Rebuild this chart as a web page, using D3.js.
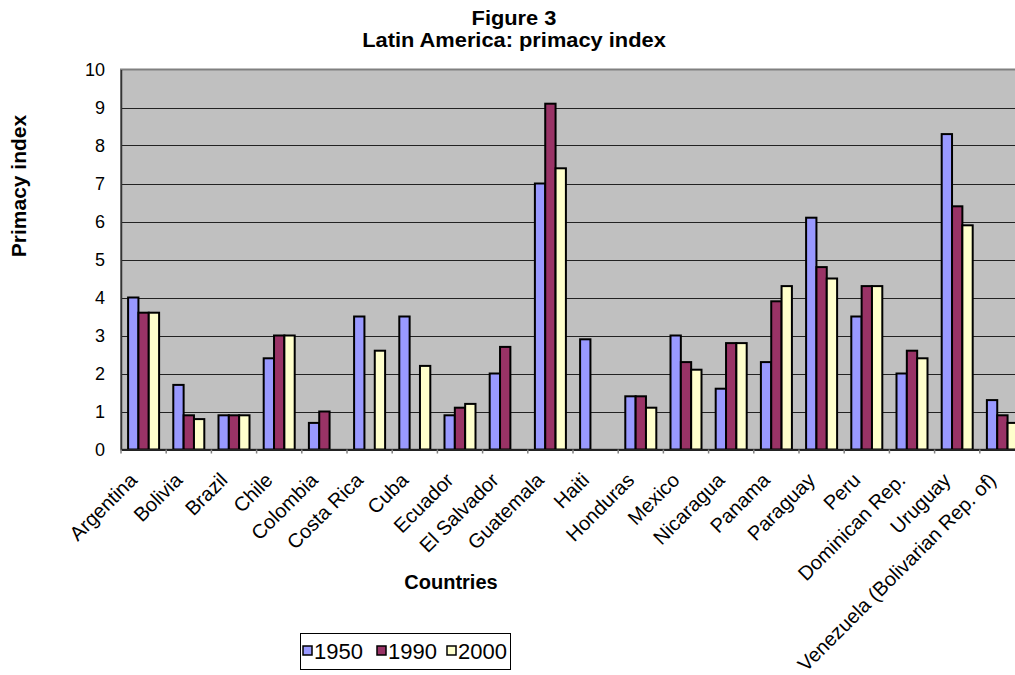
<!DOCTYPE html>
<html>
<head>
<meta charset="utf-8">
<script src="https://cdn.jsdelivr.net/npm/d3@7"></script>
<style>
  html, body { margin: 0; padding: 0; background: #fff; }
  svg { display: block; font-family: "Liberation Sans", Arial, sans-serif; }
</style>
</head>
<body>
<svg id="chart" width="1015" height="675"></svg>
<script>
// Primacy index by country, three census years (null = no data)
const countries = ["Argentina", "Bolivia", "Brazil", "Chile", "Colombia", "Costa Rica", "Cuba",
  "Ecuador", "El Salvador", "Guatemala", "Haiti", "Honduras", "Mexico", "Nicaragua", "Panama",
  "Paraguay", "Peru", "Dominican Rep.", "Uruguay", "Venezuela (Bolivarian Rep. of)"];
const years = ["1950", "1990", "2000"];
const values1950 = [4.0, 1.7, 0.9, 2.4, 0.7, 3.5, 3.5, 0.9, 2.0, 7.0, 2.9, 1.4, 3.0, 1.6, 2.3, 6.1, 3.5, 2.0, 8.3, 1.3];
const values1990 = [3.6, 0.9, 0.9, 3.0, 1.0, null, null, 1.1, 2.7, 9.1, null, 1.4, 2.3, 2.8, 3.9, 4.8, 4.3, 2.6, 6.4, 0.9];
const values2000 = [3.6, 0.8, 0.9, 3.0, null, 2.6, 2.2, 1.2, null, 7.4, null, 1.1, 2.1, 2.8, 4.3, 4.5, 4.3, 2.4, 5.9, 0.7];
const yTicks = [0, 1, 2, 3, 4, 5, 6, 7, 8, 9, 10];
const colors = ["#9999FF", "#993366", "#FFFFCC"];

const seriesValues = [values1950, values1990, values2000];
const rows = countries.map((c, i) => ({
  country: c,
  vals: years.map((y, k) => ({ year: y, value: seriesValues[k][i] }))
}));

const svg = d3.select("#chart");
const plot = { left: 121, top: 69.5, right: 1025, bottom: 449.5 };

const x = d3.scaleBand()
  .domain(countries)
  .range([plot.left, plot.right])
  .paddingInner(0.314)
  .paddingOuter(0.157);
const xInner = d3.scaleBand().domain(years).range([0, x.bandwidth()]);
const y = d3.scaleLinear().domain([0, 10]).range([plot.bottom, plot.top]);

// plot background
svg.append("rect")
  .attr("x", plot.left).attr("y", plot.top)
  .attr("width", plot.right - plot.left).attr("height", plot.bottom - plot.top)
  .attr("fill", "#C0C0C0").attr("stroke", "#808080").attr("stroke-width", 2);

// horizontal gridlines
svg.append("g").selectAll("line")
  .data(yTicks.filter(t => t > 0 && t < 10))
  .join("line")
  .attr("x1", plot.left).attr("x2", plot.right)
  .attr("y1", d => Math.round(y(d)) + 0.5).attr("y2", d => Math.round(y(d)) + 0.5)
  .attr("stroke", "#222").attr("stroke-width", 1.2);

// y axis
const yAxis = d3.axisLeft(y).tickValues(yTicks).tickSize(0).tickPadding(16).tickFormat(d3.format("d"));
const gy = svg.append("g").attr("transform", `translate(${plot.left},0)`).call(yAxis);
gy.select(".domain").attr("stroke", "#333").attr("stroke-width", 1.5);
gy.selectAll("text").attr("font-size", 18).attr("fill", "#000");

// bars
const groups = svg.append("g").selectAll("g")
  .data(rows)
  .join("g")
  .attr("transform", d => `translate(${x(d.country)},0)`);
groups.selectAll("rect")
  .data(d => d.vals.filter(v => v.value != null))
  .join("rect")
  .attr("x", d => xInner(d.year))
  .attr("width", xInner.bandwidth())
  .attr("y", d => y(d.value))
  .attr("height", d => y(0) - y(d.value))
  .attr("fill", d => colors[years.indexOf(d.year)])
  .attr("stroke", "#000").attr("stroke-width", 2);

// x axis with category tick marks between groups
const xAxis = d3.axisBottom(x).tickSize(0).tickFormat("");
const gx = svg.append("g").attr("transform", `translate(0,${plot.bottom})`).call(xAxis);
gx.select(".domain").attr("stroke", "#222").attr("stroke-width", 2);
svg.append("g").selectAll("line")
  .data(d3.range(countries.length + 1))
  .join("line")
  .attr("x1", i => plot.left + i * x.step()).attr("x2", i => plot.left + i * x.step())
  .attr("y1", plot.bottom).attr("y2", plot.bottom + 4)
  .attr("stroke", "#808080").attr("stroke-width", 1.5);

// rotated category labels
svg.append("g").selectAll("text")
  .data(countries)
  .join("text")
  .attr("transform", d => `translate(${x(d) + x.bandwidth() / 2 - 10.2},${plot.bottom + 27}) rotate(-45)`)
  .attr("text-anchor", "end")
  .attr("dy", "0.35em")
  .attr("font-size", 20)
  .text(d => d);

// two-line chart title, slightly widened
const titleLines = ["Figure 3", "Latin America: primacy index"];
svg.append("g")
  .attr("transform", "translate(514,0) scale(1.12,1)")
  .selectAll("text")
  .data(titleLines)
  .join("text")
  .attr("x", 0)
  .attr("y", (d, i) => 25 + i * 22)
  .attr("text-anchor", "middle").attr("font-weight", "bold").attr("font-size", 19.5)
  .text(d => d);

svg.append("text")
  .attr("transform", "translate(26,186) rotate(-90)")
  .attr("text-anchor", "middle").attr("font-weight", "bold").attr("font-size", 21)
  .text("Primacy index");

svg.append("text")
  .attr("x", 451).attr("y", 589)
  .attr("text-anchor", "middle").attr("font-weight", "bold").attr("font-size", 20)
  .text("Countries");

// legend
const legend = svg.append("g");
legend.append("rect")
  .attr("x", 300.5).attr("y", 633.5).attr("width", 210).attr("height", 36)
  .attr("fill", "#fff").attr("stroke", "#000").attr("stroke-width", 1);
const legendX = [303, 377, 447];
const items = legend.selectAll("g.item")
  .data(years)
  .join("g").attr("class", "item")
  .attr("transform", (d, i) => `translate(${legendX[i]},646)`);
items.append("rect")
  .attr("width", 9).attr("height", 9)
  .attr("fill", (d, i) => colors[i]).attr("stroke", "#000").attr("stroke-width", 1.5);
items.append("text")
  .attr("x", 11).attr("y", 12.5)
  .attr("font-size", 22)
  .text(d => d);
</script>
</body>
</html>
